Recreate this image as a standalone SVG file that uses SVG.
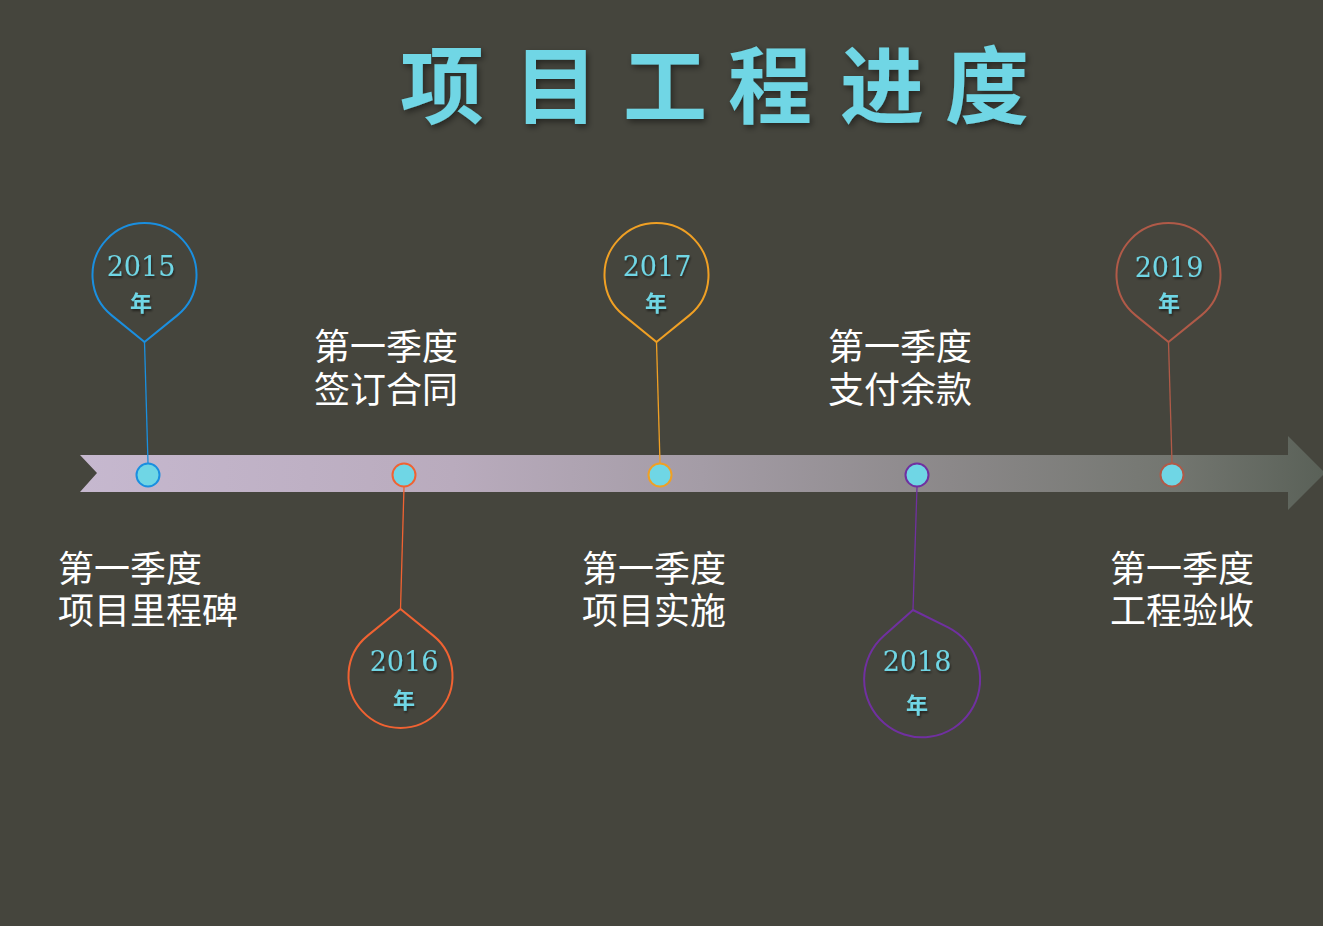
<svg xmlns="http://www.w3.org/2000/svg" width="1323" height="926" viewBox="0 0 1323 926">
<defs>
<linearGradient id="band" x1="80" y1="0" x2="1323" y2="0" gradientUnits="userSpaceOnUse">
<stop offset="0" stop-color="#c6b8cf"/>
<stop offset="0.3" stop-color="#b9abbd"/>
<stop offset="0.5" stop-color="#a49ca6"/>
<stop offset="0.7" stop-color="#8b8889"/>
<stop offset="0.88" stop-color="#737670"/>
<stop offset="1" stop-color="#5a6158"/>
</linearGradient>
<filter id="glow" x="-10%" y="-20%" width="120%" height="140%">
<feGaussianBlur in="SourceAlpha" stdDeviation="3"/>
<feOffset dx="2" dy="3" result="b"/>
<feFlood flood-color="#000" flood-opacity="0.45"/>
<feComposite in2="b" operator="in"/>
<feMerge><feMergeNode/><feMergeNode in="SourceGraphic"/></feMerge>
</filter>
<filter id="sh" x="-20%" y="-30%" width="140%" height="160%">
<feGaussianBlur in="SourceAlpha" stdDeviation="1"/>
<feOffset dx="1" dy="1.5" result="b"/>
<feFlood flood-color="#000" flood-opacity="0.5"/>
<feComposite in2="b" operator="in"/>
<feMerge><feMergeNode/><feMergeNode in="SourceGraphic"/></feMerge>
</filter>
<style>
.title{font-family:"Noto Sans CJK SC","Noto Sans CJK JP",sans-serif;font-size:84px;font-weight:700;fill:#6fd6e5;text-anchor:middle}
.yr{font-family:"DejaVu Serif","Liberation Serif",serif;font-size:27px;fill:#6fd6e5;text-anchor:middle}
.nian{font-family:"Noto Sans CJK SC",sans-serif;font-size:22px;font-weight:700;fill:#6fd6e5;text-anchor:middle}
.lbl{font-family:"Noto Sans CJK SC","Noto Sans CJK JP",sans-serif;font-size:36px;fill:#ffffff}
.pin{fill:none;stroke-width:2}
.dot{fill:#6fd6e5;stroke-width:2}
.ln{stroke-width:1.3;fill:none}
</style>
</defs>
<rect x="0" y="0" width="1323" height="926" fill="#45453d"/>

<g id="title" filter="url(#glow)">
<text class="title" x="442 556 665 770 882 987" y="117">项目工程进度</text>
</g>

<g id="timeline">
<path d="M80,455 L1288,455 L1288,436 L1325,473 L1288,510 L1288,492 L80,492 L97,473 Z" fill="url(#band)"/>
</g>

<g id="connectors">
<line class="ln" x1="144.5" y1="342" x2="148" y2="463" stroke="#1a8fe0"/>
<line class="ln" x1="400.5" y1="609" x2="404" y2="487" stroke="#f06232"/>
<line class="ln" x1="656.5" y1="342" x2="660" y2="463" stroke="#f0a024"/>
<line class="ln" x1="913" y1="610" x2="917" y2="487" stroke="#7030a0"/>
<line class="ln" x1="1168.5" y1="342" x2="1172" y2="463" stroke="#b05a48"/>
</g>

<g id="node-2015">
<path class="pin" stroke="#1a8fe0" d="M144.5,342 L111.7,315.4 A52,52 0 1 1 177.3,315.4 Z"/>
<circle class="dot" cx="148" cy="475" r="11.5" stroke="#1a8fe0"/>
<g filter="url(#sh)">
<text class="yr" x="141" y="276">2015</text>
<text class="nian" x="141" y="311">年</text>
</g>
<text class="lbl" x="58" y="582">第一季度</text>
<text class="lbl" x="58" y="624">项目里程碑</text>
</g>

<g id="node-2016">
<path class="pin" stroke="#f06232" d="M400.5,609 L433.3,635.6 A52,52 0 1 1 367.7,635.6 Z"/>
<circle class="dot" cx="404" cy="475" r="11.5" stroke="#f06232"/>
<g filter="url(#sh)">
<text class="yr" x="404" y="671">2016</text>
<text class="nian" x="404" y="708">年</text>
</g>
<text class="lbl" x="314" y="360">第一季度</text>
<text class="lbl" x="314" y="403">签订合同</text>
</g>

<g id="node-2017">
<path class="pin" stroke="#f0a024" d="M656.5,342 L623.7,315.4 A52,52 0 1 1 689.3,315.4 Z"/>
<circle class="dot" cx="660" cy="475" r="11.5" stroke="#f0a024"/>
<g filter="url(#sh)">
<text class="yr" x="657" y="276">2017</text>
<text class="nian" x="656" y="311">年</text>
</g>
<text class="lbl" x="582" y="582">第一季度</text>
<text class="lbl" x="582" y="624">项目实施</text>
</g>

<g id="node-2018">
<path class="pin" stroke="#7030a0" transform="translate(913,610) rotate(-7.5)" d="M0,0 L32.5,21.9 A58,58 0 1 1 -32.5,21.9 Z"/>
<circle class="dot" cx="917" cy="475" r="11.5" stroke="#7030a0"/>
<g filter="url(#sh)">
<text class="yr" x="917" y="671">2018</text>
<text class="nian" x="917" y="713">年</text>
</g>
<text class="lbl" x="828" y="360">第一季度</text>
<text class="lbl" x="828" y="403">支付余款</text>
</g>

<g id="node-2019">
<path class="pin" stroke="#b05a48" d="M1168.5,342 L1135.7,315.4 A52,52 0 1 1 1201.3,315.4 Z"/>
<circle class="dot" cx="1172" cy="475" r="11.5" stroke="#b05a48"/>
<g filter="url(#sh)">
<text class="yr" x="1169" y="277">2019</text>
<text class="nian" x="1169" y="311">年</text>
</g>
<text class="lbl" x="1110" y="582">第一季度</text>
<text class="lbl" x="1110" y="624">工程验收</text>
</g>
</svg>
